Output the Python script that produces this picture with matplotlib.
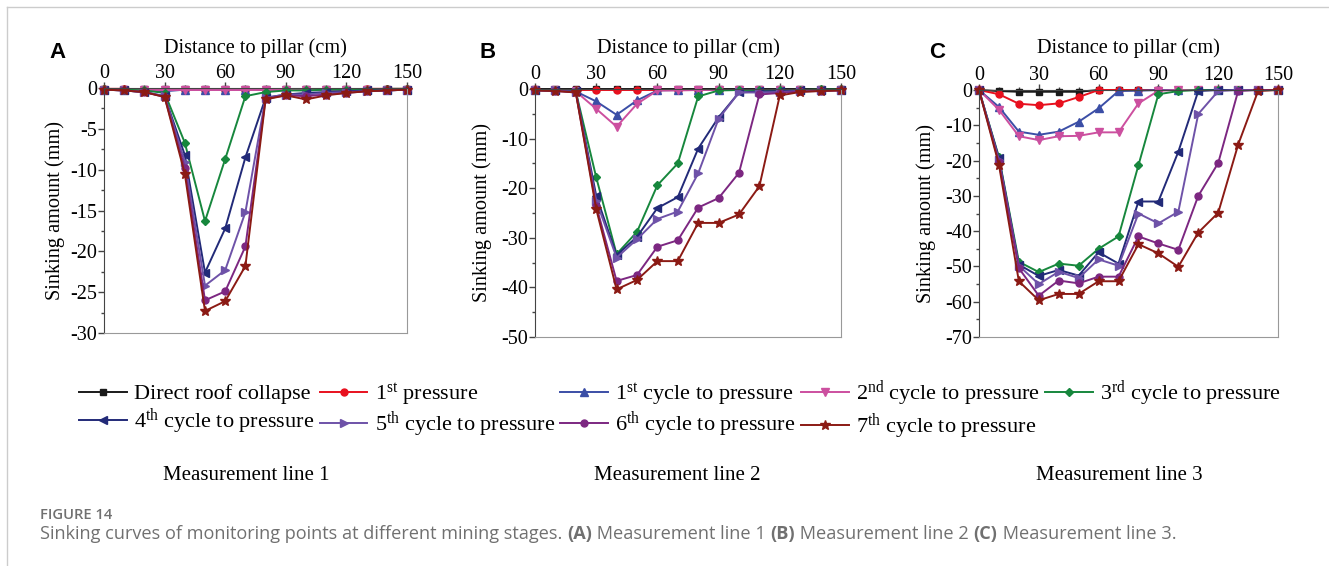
import matplotlib
matplotlib.use("Agg")
import matplotlib.pyplot as plt
from matplotlib.lines import Line2D
from matplotlib.ticker import MultipleLocator

# distance of monitoring points to pillar (cm)
dist = [0, 10, 20, 30, 40, 50, 60, 70, 80, 90, 100, 110, 120, 130, 140, 150]

# measurement line 1 (mm)
l1_collapse = [-0.1, -0.1, -0.1, -0.1, -0.1, -0.1, -0.1, -0.1, -0.1, -0.1, -0.1, -0.1, -0.1, -0.1, -0.1, -0.1]
l1_first = [-0.1, -0.1, -0.2, -0.2, -0.2, -0.2, -0.2, -0.2, -0.2, -0.2, -0.2, -0.2, -0.2, -0.1, -0.1, -0.1]
l1_c1 = [-0.2, -0.2, -0.3, -0.4, -0.2, -0.2, -0.2, -0.2, -0.2, -0.2, -0.2, -0.2, -0.2, -0.2, -0.2, -0.2]
l1_c2 = [-0.2, -0.2, -0.2, -0.2, -0.2, -0.2, -0.2, -0.2, -0.2, -0.2, -0.2, -0.2, -0.2, -0.2, -0.2, -0.2]
l1_c3 = [-0.1, -0.2, -0.3, -0.6, -6.7, -16.3, -8.7, -1.0, -0.5, -0.3, -0.3, -0.2, -0.2, -0.2, -0.1, -0.1]
l1_c4 = [-0.2, -0.3, -0.5, -1.0, -8.2, -22.6, -17.2, -8.5, -1.2, -0.8, -0.6, -0.5, -0.4, -0.3, -0.3, -0.2]
l1_c5 = [-0.2, -0.3, -0.5, -1.0, -9.0, -24.2, -22.3, -15.2, -1.2, -0.8, -0.8, -0.6, -0.5, -0.4, -0.3, -0.2]
l1_c6 = [-0.2, -0.3, -0.5, -1.1, -9.8, -26.0, -24.9, -19.4, -1.3, -0.9, -1.0, -0.8, -0.6, -0.4, -0.3, -0.2]
l1_c7 = [-0.2, -0.3, -0.5, -1.1, -10.5, -27.3, -26.1, -21.8, -1.4, -0.9, -1.4, -0.9, -0.6, -0.4, -0.3, -0.2]

# measurement line 2 (mm)
l2_collapse = [-0.1, -0.1, -0.1, -0.1, -0.1, -0.1, -0.1, -0.1, -0.1, -0.1, -0.1, -0.1, -0.1, -0.1, -0.1, -0.1]
l2_first = [-0.2, -0.2, -0.2, -0.2, -0.2, -0.2, -0.2, -0.2, -0.2, -0.2, -0.2, -0.2, -0.2, -0.2, -0.2, -0.2]
l2_c1 = [-0.2, -0.3, -0.5, -2.5, -5.2, -2.3, -0.3, -0.2, -0.2, -0.2, -0.2, -0.2, -0.2, -0.2, -0.2, -0.2]
l2_c2 = [-0.2, -0.3, -0.5, -4.0, -7.6, -3.0, -0.3, -0.3, -0.2, -0.2, -0.2, -0.2, -0.2, -0.2, -0.2, -0.2]
l2_c3 = [-0.2, -0.3, -0.5, -17.8, -33.3, -28.8, -19.4, -15.0, -1.5, -0.3, -0.2, -0.2, -0.2, -0.2, -0.1, -0.1]
l2_c4 = [-0.2, -0.3, -0.5, -21.5, -33.5, -29.8, -24.0, -21.8, -12.0, -5.7, -0.7, -0.5, -0.4, -0.3, -0.2, -0.2]
l2_c5 = [-0.2, -0.3, -0.6, -22.5, -34.0, -30.3, -26.2, -24.7, -17.0, -6.0, -0.7, -0.7, -0.6, -0.4, -0.3, -0.2]
l2_c6 = [-0.3, -0.4, -0.7, -23.5, -38.7, -37.5, -31.8, -30.5, -23.9, -22.0, -16.9, -1.1, -0.8, -0.5, -0.4, -0.3]
l2_c7 = [-0.3, -0.4, -0.7, -24.2, -40.4, -38.5, -34.7, -34.7, -27.0, -27.0, -25.3, -19.6, -1.3, -0.6, -0.4, -0.3]

# measurement line 3 (mm)
l3_collapse = [0, -0.3, -0.5, -0.5, -0.5, -0.5, 0, 0, 0, 0, 0, 0, 0, 0, 0, 0]
l3_first = [0, -1.2, -3.9, -4.3, -3.8, -2.0, 0, 0, 0, 0, 0, 0, 0, 0, 0, 0]
l3_c1 = [0, -4.8, -11.8, -12.7, -11.8, -9.0, -5.2, -0.3, -0.2, 0, 0, 0, 0, 0, 0, 0]
l3_c2 = [0, -5.6, -13.1, -14.2, -13.1, -13.0, -12.0, -12.0, -3.8, -0.2, 0, 0, 0, 0, 0, 0]
l3_c3 = [0, -19.0, -48.7, -51.6, -49.2, -49.8, -45.0, -41.5, -21.3, -1.2, -0.3, 0, 0, 0, 0, 0]
l3_c4 = [0, -19.3, -49.5, -52.7, -51.0, -52.6, -46.0, -49.2, -31.6, -31.6, -17.5, -0.3, 0, 0, 0, 0]
l3_c5 = [0, -19.8, -49.8, -55.0, -51.5, -53.3, -48.0, -49.8, -35.0, -37.8, -34.5, -6.8, -0.3, 0, 0, 0]
l3_c6 = [0, -20.5, -50.5, -58.3, -54.0, -54.8, -52.9, -52.9, -41.5, -43.5, -45.3, -30.0, -20.7, -0.3, 0, 0]
l3_c7 = [0, -21.2, -54.2, -59.6, -57.8, -57.8, -54.2, -54.2, -43.7, -46.3, -50.1, -40.4, -34.8, -15.5, -0.3, 0]

labels = ['Direct roof collapse', r'1$^{\mathrm{st}}$ pressure',
          r'1$^{\mathrm{st}}$ cycle to pressure', r'2$^{\mathrm{nd}}$ cycle to pressure',
          r'3$^{\mathrm{rd}}$ cycle to pressure', r'4$^{\mathrm{th}}$ cycle to pressure',
          r'5$^{\mathrm{th}}$ cycle to pressure', r'6$^{\mathrm{th}}$ cycle to pressure',
          r'7$^{\mathrm{th}}$ cycle to pressure']
colors = ['#1a1a1a', '#e8101e', '#3b4ea6', '#cc4f9f', '#17873d',
          '#222a78', '#6e52a8', '#7c2781', '#8b1a14']
markers = ['s', 'o', '^', 'v', 'D', '<', '>', 'o', '*']
msizes = [4.5, 5, 5.5, 5.5, 4.5, 5.5, 5.5, 5, 7]

panels = [
    ('A', 'Measurement line 1', -30, 5,
     [l1_collapse, l1_first, l1_c1, l1_c2, l1_c3, l1_c4, l1_c5, l1_c6, l1_c7]),
    ('B', 'Measurement line 2', -50, 10,
     [l2_collapse, l2_first, l2_c1, l2_c2, l2_c3, l2_c4, l2_c5, l2_c6, l2_c7]),
    ('C', 'Measurement line 3', -70, 10,
     [l3_collapse, l3_first, l3_c1, l3_c2, l3_c3, l3_c4, l3_c5, l3_c6, l3_c7]),
]

W, H = 1329, 566
plt.rcParams['font.family'] = 'serif'
plt.rcParams['font.serif'] = ['Liberation Serif', 'DejaVu Serif']
plt.rcParams['mathtext.fontset'] = 'custom'
plt.rcParams['mathtext.rm'] = 'Liberation Serif'
plt.rcParams['mathtext.it'] = 'Liberation Serif:italic'
plt.rcParams['axes.unicode_minus'] = False

fig = plt.figure(figsize=(W / 100, H / 100), dpi=100)


def px_box(left, top, right, bottom):
    return [left / W, 1 - bottom / H, (right - left) / W, (bottom - top) / H]


boxes = [(104, 88, 407, 333), (535, 89, 841, 337), (979, 90, 1278, 337)]
letter_x = [57, 488, 937]
mline_x = [246, 677, 1119]
ylab_x = [55, 482, 926]

handles = None
for (letter, mline, ymin, ystep, series), box, lx, mx, yx in zip(panels, boxes, letter_x, mline_x, ylab_x):
    ax = fig.add_axes(px_box(*box))
    for vals, lab, c, m, ms in zip(series, labels, colors, markers, msizes):
        ax.plot(dist, vals, color=c, marker=m, markersize=ms, lw=1.4,
                label=lab, clip_on=False)
    ax.set_xlim(0, 150)
    ax.set_ylim(ymin, 0)
    ax.xaxis.set_major_locator(MultipleLocator(30))
    ax.xaxis.set_minor_locator(MultipleLocator(10))
    ax.yaxis.set_major_locator(MultipleLocator(ystep))
    ax.yaxis.set_minor_locator(MultipleLocator(ystep / 2))
    ax.xaxis.tick_top()
    ax.tick_params(axis='both', which='major', direction='out', length=4,
                   width=1, labelsize=14.5, color='#444444', pad=1)
    ax.tick_params(axis='x', which='major', pad=-0.5)
    ax.tick_params(axis='both', which='minor', direction='out', length=2.5,
                   width=1, color='#444444')
    ax.set_xlabel('Distance to pillar (cm)', fontsize=14.6, va='center')
    ax.set_ylabel('Sinking amount (mm)', fontsize=14.6, va='center')
    left, top, right, bottom = box
    ax.xaxis.set_label_coords(0.5, 1 + (top - 48) / (bottom - top))
    ax.yaxis.set_label_coords((yx - left) / (right - left), 0.5)
    for side in ['left', 'top']:
        ax.spines[side].set_color('#444444')
    for side in ['right', 'bottom']:
        ax.spines[side].set_color('#999999')
    fig.text(lx / W, 1 - 52 / H, letter, family='Liberation Sans',
             fontweight='bold', fontsize=16, ha='center', va='center')
    fig.text(mx / W, 1 - 475 / H, mline, fontsize=15, ha='center', va='center')
    if handles is None:
        handles, _ = ax.get_legend_handles_labels()

# matplotlib fills legend columns first, so reorder to read row by row
order = [0, 5, 1, 6, 2, 7, 3, 8, 4]
fig.legend([handles[i] for i in order], [labels[i] for i in order], ncol=5,
           loc='center left', bbox_to_anchor=(79 / W, 1 - 410 / H),
           frameon=False, fontsize=16, handlelength=2.15, handletextpad=0.32,
           columnspacing=0.25, labelspacing=0.12, borderpad=0, borderaxespad=0)

# light frame line at top and left
fig.add_artist(Line2D([7 / W, 7 / W], [0, 1 - 7 / H], color='#cccccc', lw=1))
fig.add_artist(Line2D([7 / W, 1], [1 - 7 / H, 1 - 7 / H], color='#cccccc', lw=1))

# caption
cap_color = '#707070'
fig.text(40 / W, 1 - 515 / H, 'FIGURE 14', family='Open Sans', fontsize=10.6,
         fontweight='semibold', color=cap_color, va='center')
pieces = [('Sinking curves of monitoring points at different mining stages. ', 'normal'),
          ('(A)', 'bold'), (' Measurement line 1 ', 'normal'), ('(B)', 'bold'),
          (' Measurement line 2 ', 'normal'), ('(C)', 'bold'),
          (' Measurement line 3.', 'normal')]
renderer = fig.canvas.get_renderer()
x = 40
for txt, wt in pieces:
    t = fig.text(x / W, 1 - 534 / H, txt, family='Open Sans', fontsize=13.1,
                 fontweight=wt, color=cap_color, va='center')
    x = x + t.get_window_extent(renderer).width

fig.savefig('out.png', dpi=100)
